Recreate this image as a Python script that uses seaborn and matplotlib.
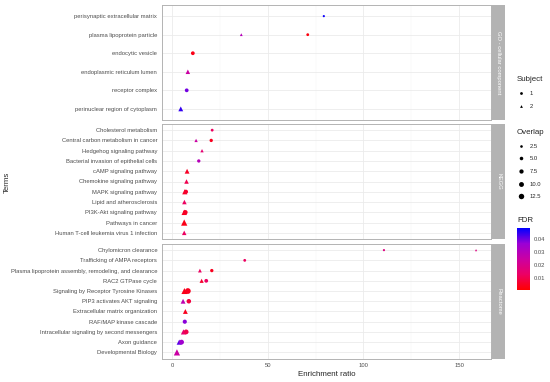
import numpy as np
import pandas as pd
import matplotlib
matplotlib.use('Agg')
import matplotlib.pyplot as plt
import seaborn as sns
from matplotlib.colors import LinearSegmentedColormap, Normalize
from matplotlib.lines import Line2D
import matplotlib.colorbar as mcolorbar

sns.set_theme(style="whitegrid")
plt.rcParams['font.family'] = ['Liberation Sans', 'DejaVu Sans']

# Data
categories = ['GO - cellular component', 'KEGG', 'Reactome']

go_terms = ['perisynaptic extracellular matrix', 'plasma lipoprotein particle',
            'endocytic vesicle', 'endoplasmic reticulum lumen',
            'receptor complex', 'perinuclear region of cytoplasm']
kegg_terms = ['Cholesterol metabolism', 'Central carbon metabolism in cancer',
              'Hedgehog signaling pathway', 'Bacterial invasion of epithelial cells',
              'cAMP signaling pathway', 'Chemokine signaling pathway',
              'MAPK signaling pathway', 'Lipid and atherosclerosis',
              'PI3K-Akt signaling pathway', 'Pathways in cancer',
              'Human T-cell leukemia virus 1 infection']
reactome_terms = ['Chylomicron clearance', 'Trafficking of AMPA receptors',
                  'Plasma lipoprotein assembly, remodeling, and clearance',
                  'RAC2 GTPase cycle', 'Signaling by Receptor Tyrosine Kinases',
                  'PIP3 activates AKT signaling', 'Extracellular matrix organization',
                  'RAF/MAP kinase cascade', 'Intracellular signaling by second messengers',
                  'Axon guidance', 'Developmental Biology']

# one entry per point
category = (['GO - cellular component'] * 7 + ['KEGG'] * 14 + ['Reactome'] * 18)
term = ['perisynaptic extracellular matrix', 'plasma lipoprotein particle',
        'plasma lipoprotein particle', 'endocytic vesicle', 'endoplasmic reticulum lumen',
        'receptor complex', 'perinuclear region of cytoplasm',
        'Cholesterol metabolism', 'Central carbon metabolism in cancer',
        'Central carbon metabolism in cancer', 'Hedgehog signaling pathway',
        'Bacterial invasion of epithelial cells', 'cAMP signaling pathway',
        'Chemokine signaling pathway', 'MAPK signaling pathway', 'MAPK signaling pathway',
        'Lipid and atherosclerosis', 'PI3K-Akt signaling pathway',
        'PI3K-Akt signaling pathway', 'Pathways in cancer',
        'Human T-cell leukemia virus 1 infection',
        'Chylomicron clearance', 'Chylomicron clearance', 'Trafficking of AMPA receptors',
        'Plasma lipoprotein assembly, remodeling, and clearance',
        'Plasma lipoprotein assembly, remodeling, and clearance',
        'RAC2 GTPase cycle', 'RAC2 GTPase cycle',
        'Signaling by Receptor Tyrosine Kinases', 'Signaling by Receptor Tyrosine Kinases',
        'PIP3 activates AKT signaling', 'PIP3 activates AKT signaling',
        'Extracellular matrix organization', 'RAF/MAP kinase cascade',
        'Intracellular signaling by second messengers',
        'Intracellular signaling by second messengers',
        'Axon guidance', 'Axon guidance', 'Developmental Biology']
subject = [1, 2, 1, 1, 2, 1, 2,
           1, 2, 1, 2, 1, 2, 2, 2, 1, 2, 2, 1, 2, 2,
           1, 2, 1, 2, 1, 2, 1, 2, 1, 2, 1, 2, 1, 2, 1, 2, 1, 2]
ratio = [79.3, 36.2, 70.9, 10.9, 8.3, 7.7, 4.6,
         21.0, 12.6, 20.5, 15.7, 14.0, 7.9, 7.6, 6.7, 7.3, 6.5, 6.4, 7.0, 6.4, 6.4,
         110.7, 158.8, 38.0, 14.6, 20.8, 15.5, 17.9, 6.5, 8.3, 5.8, 8.8, 7.0, 6.7,
         6.0, 7.4, 3.8, 5.0, 2.6]
overlap = [1, 2, 2, 4, 6, 4, 7,
           2, 3, 3, 3, 3, 7, 6, 8, 5, 6, 9, 6, 12, 6,
           1, 1, 2, 4, 3, 5, 4, 11, 10, 7, 6, 7, 5, 8, 7, 8, 7, 12]
fdr = [0.048, 0.030, 0.002, 0.003, 0.025, 0.040, 0.045,
       0.012, 0.025, 0.004, 0.015, 0.030, 0.005, 0.010, 0.005, 0.006, 0.012, 0.004,
       0.005, 0.003, 0.012,
       0.018, 0.018, 0.012, 0.012, 0.004, 0.006, 0.012, 0.003, 0.004, 0.028, 0.008,
       0.004, 0.038, 0.015, 0.010, 0.042, 0.035, 0.025]

df = pd.DataFrame({'category': category, 'term': term, 'subject': subject,
                   'ratio': ratio, 'overlap': overlap, 'fdr': fdr})

cmap = LinearSegmentedColormap.from_list(
    'fdr', ['#FF0000', '#EC0064', '#CB00A2', '#9A00D6', '#0000FF'])
fdr_norm = (0.0003, 0.049)
size_range = (2.5, 22)
size_norm = (1, 13)
markers = {1: 'o', 2: '^'}

W, H = 550, 382
fig = plt.figure(figsize=(5.5, 3.82), dpi=100)
fig.patch.set_facecolor('white')

panel_px = [(5, 120), (124, 239), (244, 358.5)]
left_px, right_px = 162, 491
term_lists = [go_terms, kegg_terms, reactome_terms]
grid_col = '#EBEBEB'
border_col = '#B3B3B3'
tick_fs = 4.2
title_fs = 5.7

for i, (cat, terms, (top, bot)) in enumerate(zip(categories, term_lists, panel_px)):
    ax = fig.add_axes([left_px / W, 1 - bot / H, (right_px - left_px) / W, (bot - top) / H])
    sub = df[df['category'] == cat].copy()
    sub['term'] = pd.Categorical(sub['term'], categories=terms)
    sub = sub.sort_values('term', kind='stable')
    sub['term'] = sub['term'].astype(str)
    sns.scatterplot(data=sub, x='ratio', y='term', hue='fdr', palette=cmap,
                    hue_norm=fdr_norm, size='overlap', sizes=size_range,
                    size_norm=size_norm, style='subject', markers=markers,
                    linewidth=0, legend=False, ax=ax, zorder=3)
    n = len(terms)
    ax.set_yticks(range(n))
    ax.set_yticklabels(terms)
    ax.set_ylim(n - 1 + 0.6, -0.6)
    ax.set_xlim(-5.2, 166.6)
    ax.set_xticks([0, 50, 100, 150])
    ax.set_xticks([25, 75, 125], minor=True)
    ax.set_xlabel('')
    ax.set_ylabel('')
    ax.set_facecolor('white')
    ax.grid(True, which='major', color=grid_col, linewidth=0.6)
    ax.grid(True, which='minor', axis='x', color='#F5F5F5', linewidth=0.35)
    for s in ax.spines.values():
        s.set_color(border_col)
        s.set_linewidth(0.7)
    ax.tick_params(axis='both', which='major', labelsize=tick_fs, labelcolor='#4D4D4D',
                   length=1.5, width=0.4, color='#B3B3B3', pad=2)
    ax.tick_params(axis='x', which='minor', length=0)
    if i < 2:
        ax.tick_params(axis='x', labelbottom=False, length=0)

    # facet strip
    sax = fig.add_axes([492 / W, 1 - bot / H, 13 / W, (bot - top) / H])
    sax.set_facecolor('#B3B3B3')
    sax.set_xticks([])
    sax.set_yticks([])
    for s in sax.spines.values():
        s.set_visible(False)
    sax.text(0.5, 0.5, cat, rotation=-90, ha='center', va='center',
             color='white', fontsize=tick_fs, transform=sax.transAxes)

fig.text(327 / W, 1 - 374 / H, 'Enrichment ratio', ha='center', va='center', fontsize=title_fs)
fig.text(7 / W, 1 - 182 / H, 'Terms', rotation=90, ha='center', va='center', fontsize=title_fs)

# Subject legend
subj_handles = [Line2D([], [], marker=markers[k], color='black', linestyle='',
                       markersize=2.0, markeredgewidth=0) for k in [1, 2]]
leg1 = fig.legend(subj_handles, ['1', '2'], title='Subject', loc='upper left',
                  bbox_to_anchor=(514 / W, 1 - 73 / H), frameon=False,
                  fontsize=tick_fs, title_fontsize=title_fs, labelspacing=1.35,
                  handletextpad=0.8, handlelength=1.4, borderpad=0, alignment='left')

# Overlap legend
ov_levels = [2.5, 5.0, 7.5, 10.0, 12.5]
ov_handles = []
for v in ov_levels:
    s = size_range[0] + (v - size_norm[0]) / (size_norm[1] - size_norm[0]) * (size_range[1] - size_range[0])
    ov_handles.append(Line2D([], [], marker='o', color='black', linestyle='',
                             markersize=np.sqrt(s) * 0.85, markeredgewidth=0))
leg2 = fig.legend(ov_handles, [f'{v:.1f}' for v in ov_levels], title='Overlap',
                  loc='upper left', bbox_to_anchor=(514 / W, 1 - 126 / H), frameon=False,
                  fontsize=tick_fs, title_fontsize=title_fs, labelspacing=1.3,
                  handletextpad=0.8, handlelength=1.4, borderpad=0, alignment='left')

# FDR colorbar
fig.text(517 / W, 1 - 220 / H, 'FDR', ha='left', va='center', fontsize=title_fs)
cax = fig.add_axes([517 / W, 1 - 290 / H, 13 / W, 62 / H])
cb = mcolorbar.ColorbarBase(cax, cmap=cmap, norm=Normalize(*fdr_norm))
cb.set_ticks([0.01, 0.02, 0.03, 0.04])
cb.set_ticklabels(['0.01', '0.02', '0.03', '0.04'])
cb.outline.set_visible(False)
cax.tick_params(labelsize=tick_fs, labelcolor='#4D4D4D', length=2, width=0.4,
                color='white', direction='in', pad=2.5)

fig.savefig('out.png', dpi=100)
